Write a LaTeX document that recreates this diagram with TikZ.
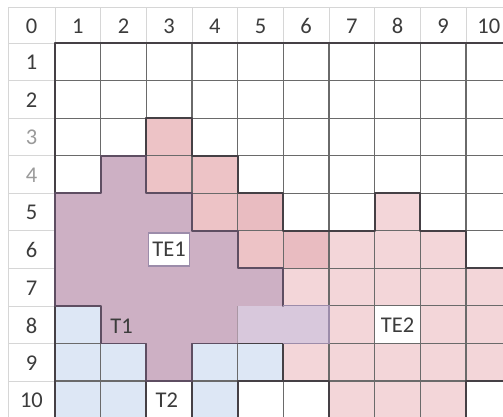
\documentclass[tikz,border=0pt]{standalone}
\usepackage{fontspec}
\setmainfont{Carlito}
\definecolor{pu}{HTML}{CDB0C4}
\definecolor{pk}{HTML}{EDC3C6}
\definecolor{pkd}{HTML}{E9BCC1}
\definecolor{lp}{HTML}{F3D6D9}
\definecolor{bl}{HTML}{DDE7F5}
\definecolor{lav}{HTML}{D8C8DC}
\definecolor{hdrline}{HTML}{D6D6D6}
\definecolor{gridline}{HTML}{6A6A6A}
\definecolor{edge}{HTML}{454045}
\definecolor{puedge}{HTML}{5E4E62}
\definecolor{lavedge}{HTML}{9C8CAA}
\definecolor{txt}{HTML}{3C3C3C}
\definecolor{txtl}{HTML}{9A9A9A}
\newcommand\cellfill[3]{\fill[#3] (#2-1,#1-1) rectangle (#2,#1);}
\tikzset{
  hdr/.style={draw=hdrline, line width=0.7pt},
  gridl/.style={draw=gridline, line width=1.1pt},
  regionedge/.style={draw=edge, line width=1.8pt, line cap=round, line join=round},
  puline/.style={draw=puedge, line width=1.8pt, line cap=round, line join=round},
  lavline/.style={draw=lavedge, line width=1.1pt},
  lbl/.style={font=\fontsize{22.5}{22.5}\selectfont, text=txt, inner sep=0pt},
  lbll/.style={font=\fontsize{22.5}{22.5}\selectfont, text=txtl, inner sep=0pt},
  te1box/.style={draw=lavedge, line width=1.5pt, fill=white, minimum width=41pt, minimum height=33pt, inner sep=0pt, font=\fontsize{22.5}{22.5}\selectfont, text=txt}
}
\begin{document}
\begin{tikzpicture}[x=1pt,y=-1pt]
\useasboundingbox (0,0) rectangle (503,417);
\clip (0,0) rectangle (503,417);
\fill[white] (0,0) rectangle (503,417);
\begin{scope}[shift={(55,43)},x=45.67pt,y=-37.56pt]
  \def\hx{-1.029}
  \def\hy{-0.958}
  % header grid
  \draw[hdr] (\hx,\hy) -- (11,\hy);
  \foreach \c in {0,...,11} \draw[hdr] (\c,\hy) -- (\c,0);
  \draw[hdr] (\hx,\hy) -- (\hx,11);
  \foreach \r in {0,...,11} \draw[hdr] (\hx,\r) -- (0,\r);
  % cell fills
  \cellfill{3}{3}{pk}
  \cellfill{4}{3}{pk}
  \cellfill{4}{4}{pk}
  \cellfill{5}{4}{pk}
  \cellfill{6}{5}{pk}
  \cellfill{5}{5}{pkd}
  \cellfill{6}{6}{pkd}
  \cellfill{5}{8}{lp}
  \foreach \c in {7,8,9} {\cellfill{6}{\c}{lp}}
  \foreach \c in {6,...,10} {\cellfill{7}{\c}{lp}}
  \foreach \c in {7,9,10} {\cellfill{8}{\c}{lp}}
  \foreach \c in {6,...,10} {\cellfill{9}{\c}{lp}}
  \foreach \c in {7,8,9} {\cellfill{10}{\c}{lp}}
  \cellfill{8}{1}{bl}
  \cellfill{9}{1}{bl}
  \cellfill{9}{2}{bl}
  \cellfill{10}{1}{bl}
  \cellfill{10}{2}{bl}
  \cellfill{9}{4}{bl}
  \cellfill{9}{5}{bl}
  \cellfill{10}{4}{bl}
  % grid
  \foreach \c in {0,...,11} \draw[gridl] (\c,0) -- (\c,11);
  \foreach \r in {0,...,11} \draw[gridl] (0,\r) -- (11,\r);
  % T1 region
  \fill[pu] (1,3) -- (2,3) -- (2,4) -- (3,4) -- (3,5) -- (4,5) -- (4,6) -- (5,6) -- (5,7)
     -- (4,7) -- (4,8) -- (3,8) -- (3,9) -- (2,9) -- (2,8) -- (1,8) -- (1,7) -- (0,7) -- (0,4) -- (1,4) -- cycle;
  \fill[lav] (4,7) rectangle (6,8);
  % region edges
  \draw[regionedge] (0,0) -- (11,0);
  \draw[regionedge] (0,0) -- (0,11);
  \draw[regionedge] (2,3) -- (2,2) -- (3,2) -- (3,3) -- (4,3) -- (4,4) -- (5,4) -- (5,5) -- (7,5) -- (7,4) -- (8,4) -- (8,5) -- (9,5) -- (9,6) -- (11,6);
  \draw[regionedge] (2,9) -- (2,11);
  \draw[regionedge] (3,9) -- (3,11);
  \draw[regionedge] (4,8) -- (5,8) -- (5,9) -- (4,9) -- (4,11);
  \draw[regionedge] (5,9) -- (6,9) -- (6,11);
  \draw[regionedge] (9,11) -- (9,9) -- (11,9);
  \draw[puline] (4,8) -- (3,8) -- (3,9) -- (2,9) -- (2,8) -- (1,8) -- (1,7) -- (0,7) -- (0,4) -- (1,4) -- (1,3) -- (2,3) -- (2,4) -- (3,4) -- (3,5) -- (4,5) -- (4,6) -- (5,6) -- (5,7);
  \draw[lavline] (5,7) -- (6,7) -- (6,8) -- (5,8);
  % TE1 and TE2 boxes
  \node[te1box] (te1) at (2.5,5.5) {TE1};
  \fill[white] (7.06,7.07) rectangle (7.94,7.93);
  \node[lbl] (te2) at (7.5,7.5) {TE2};
  \node[lbl] (t1) at (1.46,7.55) {T1};
  \node[lbl] (t2) at (2.45,9.5) {T2};
  % header labels
  \node[lbl] (h0) at (-0.515,-0.45) {0};
  \foreach \c in {1,...,10} {\node[lbl] (h\c) at (\c-0.5,-0.45) {\c};}
  \foreach \r in {1,2,5,6,7,8,9,10} {\node[lbl] (r\r) at (-0.515,\r-0.48) {\r};}
  \node[lbll] (r3) at (-0.515,2.52) {3};
  \node[lbll] (r4) at (-0.515,3.52) {4};
\end{scope}
\end{tikzpicture}
\end{document}
